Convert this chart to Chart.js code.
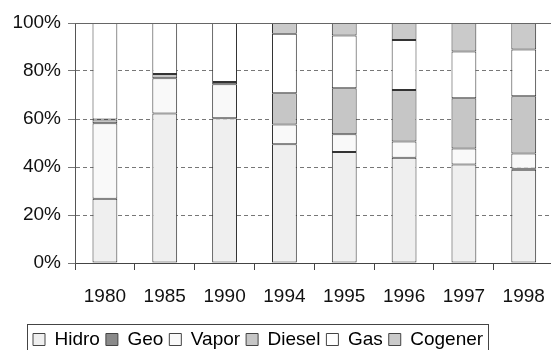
<!DOCTYPE html>
<html>
<head>
<meta charset="utf-8">
<script src="https://cdn.jsdelivr.net/npm/chart.js@4"></script>
<style>
  html, body { margin: 0; padding: 0; background: #fff; overflow: hidden; }
  #wrap { width: 560px; height: 350px; position: relative; }
</style>
</head>
<body>
<div id="wrap"><canvas id="chart-share"></canvas></div>
<script>
// participación por tipo de generación (%)
const years = ['1980', '1985', '1990', '1994', '1995', '1996', '1997', '1998'];
const hidro   = [26.8, 62.3, 60.3, 49.5, 46.3, 43.9, 41.0, 38.9];
const geo     = [0, 0, 0, 0, 0, 0, 0, 0.4];
const vapor   = [31.4, 14.7, 14.2, 8.2, 7.3, 6.7, 6.7, 6.3];
const diesel  = [1.6, 1.7, 0.9, 13.0, 19.2, 21.5, 20.9, 23.9];
const gas     = [40.2, 21.3, 24.6, 24.8, 22.0, 20.8, 19.5, 19.5];
const cogener = [0, 0, 0, 4.5, 5.2, 7.1, 11.9, 11.0];
const yTicks  = [0, 20, 40, 60, 80, 100];

const series = [
  { label: 'Hidro',   data: hidro,   color: '#efefef' },
  { label: 'Geo',     data: geo,     color: '#8a8a8a' },
  { label: 'Vapor',   data: vapor,   color: '#f9f9f9' },
  { label: 'Diesel',  data: diesel,  color: '#c6c6c6' },
  { label: 'Gas',     data: gas,     color: '#ffffff' },
  { label: 'Cogener', data: cogener, color: '#cacaca' }
];

Chart.defaults.font.family = '"Liberation Sans", Arial, sans-serif';
Chart.defaults.color = '#111';

const LEGEND_LEFT = 27;

// leyenda corrida a la izquierda, línea superior sólida y recuadro de la leyenda
const frame = {
  id: 'frame',
  afterLayout(chart) {
    chart.legend.left = LEGEND_LEFT;
  },
  afterDraw(chart) {
    const ctx = chart.ctx;
    const a = chart.chartArea;
    ctx.save();
    ctx.strokeStyle = '#666';
    ctx.lineWidth = 1;
    ctx.beginPath();
    ctx.moveTo(a.left, Math.round(a.top) + 0.5);
    ctx.lineTo(a.right, Math.round(a.top) + 0.5);
    ctx.stroke();

    const lg = chart.legend;
    if (lg.lineWidths && lg.lineWidths.length) {
      const x1 = Math.round(lg.left) + 0.5;
      const x2 = Math.round(lg.left + lg.lineWidths[0] + 5) + 0.5;
      const y1 = Math.round(lg.top) + 0.5;
      ctx.strokeStyle = '#444';
      ctx.strokeRect(x1, y1, x2 - x1, 40);
    }
    ctx.restore();
  }
};

const ctx = document.getElementById('chart-share').getContext('2d');
const chart = new Chart(ctx, {
  type: 'bar',
  data: {
    labels: years,
    datasets: series.map(s => ({
      label: s.label,
      data: s.data,
      backgroundColor: s.color,
      borderColor: '#333',
      // sin borde en los tramos vacíos
      borderWidth: c => (c.raw ? 1 : 0),
      borderSkipped: false,
      categoryPercentage: 1,
      barPercentage: 0.415
    }))
  },
  options: {
    responsive: true,
    maintainAspectRatio: false,
    animation: false,
    layout: { padding: { left: 5, top: 23, right: 2, bottom: -9 } },
    plugins: {
      tooltip: { enabled: false },
      legend: {
        position: 'bottom',
        align: 'start',
        labels: {
          boxWidth: 12,
          boxHeight: 12,
          padding: 6,
          color: '#111',
          font: { size: 19 },
          generateLabels: chart => chart.data.datasets.map((ds, i) => ({
            text: ds.label,
            fillStyle: ds.backgroundColor,
            strokeStyle: '#444',
            lineWidth: 1,
            datasetIndex: i
          }))
        }
      }
    },
    scales: {
      x: {
        stacked: true,
        afterFit: scale => { scale.height = 61; },
        grid: {
          offset: true,
          drawOnChartArea: false,
          color: '#444',
          tickLength: 7
        },
        border: { color: '#444' },
        ticks: { padding: 15, font: { size: 19 }, color: '#111' }
      },
      y: {
        stacked: true,
        min: 0,
        max: 100,
        afterFit: scale => { scale.width = 70; },
        afterBuildTicks: scale => { scale.ticks = yTicks.map(v => ({ value: v })); },
        grid: {
          color: '#777',
          tickLength: 7
        },
        border: { color: '#555', dash: [4, 3] },
        ticks: {
          padding: 7,
          font: { size: 19 },
          color: '#111',
          callback: v => v + '%'
        }
      }
    }
  },
  plugins: [frame]
});
</script>
</body>
</html>
